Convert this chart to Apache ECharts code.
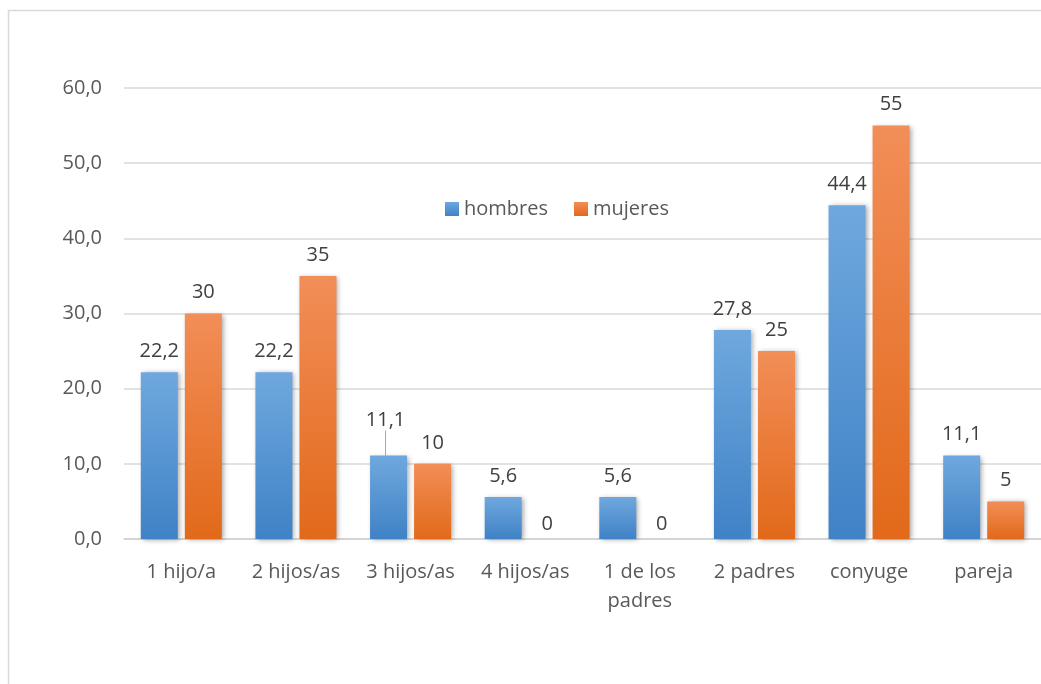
<!DOCTYPE html>
<html>
<head>
<meta charset="utf-8">
<script src="https://cdn.jsdelivr.net/npm/echarts@6/dist/echarts.min.js"></script>
<style>
  html, body { margin: 0; padding: 0; background: #fff; }
  #chart { width: 1041px; height: 684px; }
</style>
</head>
<body>
<div id="chart"></div>
<script>
// Categorías de convivientes y porcentajes por sexo
const categories = ['1 hijo/a', '2 hijos/as', '3 hijos/as', '4 hijos/as', '1 de los\npadres', '2 padres', 'conyuge', 'pareja'];
const seriesNames = ['hombres', 'mujeres'];
const hombres = [22.2, 22.2, 11.1, 5.6, 5.6, 27.8, 44.4, 11.1];
const mujeres = [30, 35, 10, 0, 0, 25, 55, 5];
const yTicks = { min: 0, max: 60, interval: 10 };

const FONT = '"Open Sans", sans-serif';
const comma = v => String(v).replace('.', ',');

function grad(top, bottom) {
  return new echarts.graphic.LinearGradient(0, 0, 0, 1, [
    { offset: 0, color: top },
    { offset: 1, color: bottom }
  ]);
}

// Zero-valued bars get their label nudged down toward the axis;
// the third "hombres" bar carries a leader line to its lifted label.
function buildData(values, withLeader) {
  return values.map((v, i) => {
    const item = { value: v };
    if (v === 0) item.label = { offset: [0, 6] };
    if (withLeader && i === 2) item.labelLine = { show: true };
    return item;
  });
}

const labelCommon = {
  show: true,
  position: 'top',
  distance: 11,
  color: '#404040',
  fontFamily: FONT,
  fontSize: 20,
  formatter: p => comma(p.value)
};

const shadow = {
  shadowBlur: 5,
  shadowColor: 'rgba(0,0,0,0.35)',
  shadowOffsetX: 2,
  shadowOffsetY: 1
};

const chart = echarts.init(document.getElementById('chart'), null, { renderer: 'canvas' });
chart.setOption({
  backgroundColor: '#ffffff',
  animation: false,
  graphic: [{
    type: 'rect',
    shape: { x: 8.5, y: 10.5, width: 1200, height: 900 },
    style: { fill: 'none', stroke: '#d9d9d9', lineWidth: 1.5 },
    silent: true,
    z: -10
  }],
  legend: {
    data: seriesNames,
    left: 440,
    top: 194,
    icon: 'rect',
    itemWidth: 14,
    itemHeight: 14,
    itemGap: 26,
    textStyle: { color: '#595959', fontFamily: FONT, fontSize: 20 }
  },
  grid: { left: 124, top: 88, width: 921, height: 451 },
  xAxis: {
    type: 'category',
    data: categories,
    axisTick: { show: false },
    axisLine: { lineStyle: { color: '#d0d0d0', width: 1.5 } },
    axisLabel: {
      color: '#595959',
      fontFamily: FONT,
      fontSize: 20,
      margin: 19,
      lineHeight: 29,
      interval: 0
    }
  },
  yAxis: {
    type: 'value',
    min: yTicks.min,
    max: yTicks.max,
    interval: yTicks.interval,
    axisLine: { show: false },
    axisTick: { show: false },
    splitLine: { lineStyle: { color: '#d9d9d9', width: 1.5 } },
    axisLabel: {
      color: '#595959',
      fontFamily: FONT,
      fontSize: 20,
      margin: 22,
      formatter: v => v.toFixed(1).replace('.', ',')
    }
  },
  series: [
    {
      name: seriesNames[0],
      type: 'bar',
      barWidth: 37,
      barGap: '19%',
      data: buildData(hombres, true),
      itemStyle: Object.assign({ color: grad('#6fa8de', '#3f82c6') }, shadow),
      label: labelCommon,
      labelLine: { show: false, lineStyle: { color: '#a6a6a6', width: 1 } },
      labelLayout: p => (p.dataIndex === 2 ? { dx: -3, dy: -14 } : null)
    },
    {
      name: seriesNames[1],
      type: 'bar',
      barWidth: 37,
      barGap: '19%',
      data: buildData(mujeres, false),
      itemStyle: Object.assign({ color: grad('#f28e58', '#e2691a') }, shadow),
      label: labelCommon
    }
  ]
});
</script>
</body>
</html>
